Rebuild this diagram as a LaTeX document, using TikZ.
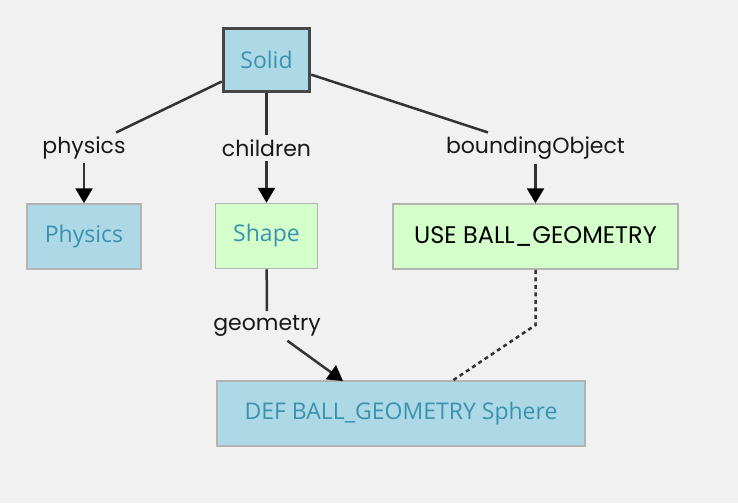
\documentclass[tikz,border=0pt]{standalone}
\usepackage{fontspec}
\setmainfont{Poppins}
\newfontfamily\boxfont{Open Sans}
\usetikzlibrary{positioning, arrows.meta}

\definecolor{bgcol}{HTML}{F1F1F1}
\definecolor{defblue}{HTML}{ADD8E6}
\definecolor{usegreen}{HTML}{D4FFCB}
\definecolor{nametext}{HTML}{3A93AE}
\definecolor{edgecol}{HTML}{333333}
\definecolor{boxline}{HTML}{B3B3B3}

\tikzset{
    vrmlbox/.style={draw=boxline, line width=1.5pt, minimum height=65pt, inner sep=0pt,
        font=\boxfont\fontsize{23}{26}\selectfont, text=nametext},
    defbox/.style={vrmlbox, fill=defblue},
    usebox/.style={vrmlbox, fill=usegreen},
    fieldlabel/.style={fill=bgcol, inner sep=3pt, text=black!90,
        font=\fontsize{22}{26}\selectfont},
}

\begin{document}
\begin{tikzpicture}[x=1pt, y=-1pt, >={Triangle[length=15pt, width=17pt, color=black]},
        node distance=88pt, line width=2.5pt, draw=edgecol]
        \fill[bgcol] (0,0) rectangle (738,503);

        \node[defbox, draw=edgecol!90, line width=3.5pt, minimum width=86pt, minimum height=63pt] (solid) at (266.5,60) {Solid};
        \node[fieldlabel] (children) [below of=solid] {children};
        \node[usebox, minimum width=102pt] (shape) [below of=children] {Shape};
        \node[fieldlabel] (physicslbl) at (84,148) {physics};
        \node[defbox, minimum width=114pt] (physics) at (84,236.5) {Physics};
        \node[fieldlabel] (boundinglbl) at (535.5,148) {boundingObject};
        \node[usebox, minimum width=285pt, text=black, font=\fontsize{24}{26}\selectfont] (use) at (535.5,236.5) {USE BALL\_GEOMETRY};
        \node[fieldlabel] (geometrylbl) at (267,326) {geometry};
        \node[defbox, minimum width=368pt] (def) at (401,413.5) {DEF BALL\_GEOMETRY Sphere};

        \coordinate (deftop) at (343,381);
        \coordinate (usebend) at (535.5,325);
        \coordinate (defuse) at (452,381);

        % fields of Solid
        \draw[edgecol] (solid) -- (physicslbl);
        \draw[edgecol, ->] (physicslbl) -- (physics);
        \draw[edgecol] (solid) -- (children);
        \draw[edgecol, ->] (children) -- (shape);
        \draw[edgecol] (solid) -- (boundinglbl);
        \draw[edgecol, ->] (boundinglbl) -- (use);

        % geometry of Shape
        \draw[edgecol] (shape) -- (geometrylbl);
        \draw[edgecol, ->] (geometrylbl) -- (deftop);

        % USE refers to DEF
        \draw[edgecol, dash pattern=on 4pt off 3.5pt] (use) -- (usebend) -- (defuse);
\end{tikzpicture}
\end{document}
